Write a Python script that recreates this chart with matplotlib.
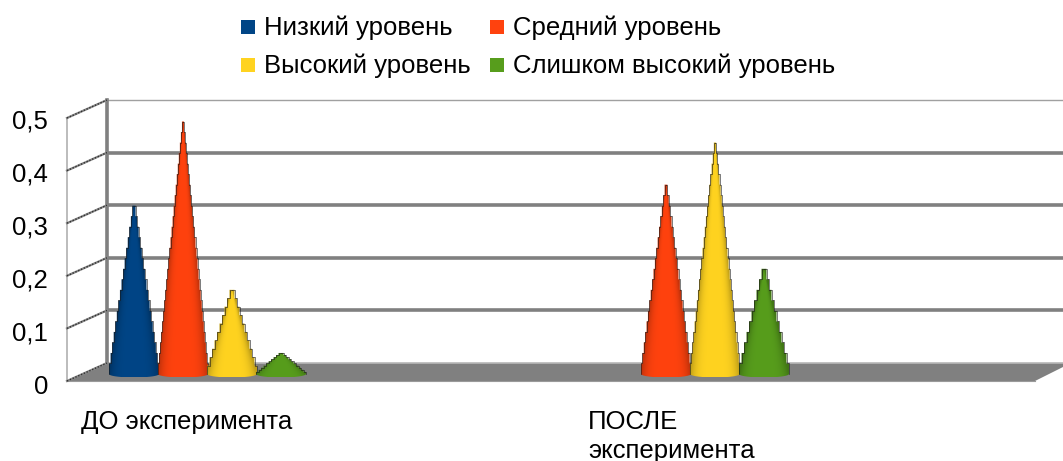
import numpy as np
import matplotlib
matplotlib.use("Agg")
import matplotlib.pyplot as plt
from matplotlib.path import Path
from matplotlib.patches import PathPatch, Polygon, Rectangle
from matplotlib.colors import to_rgb

categories = ["ДО эксперимента", "ПОСЛЕ\nэксперимента"]
series_names = ["Низкий уровень", "Средний уровень", "Высокий уровень", "Слишком высокий уровень"]
low = [0.32, 0]
medium = [0.48, 0.36]
high = [0.16, 0.44]
too_high = [0.04, 0.20]
y_ticks = [0, 0.1, 0.2, 0.3, 0.4, 0.5]
y_labels = ["0", "0,1", "0,2", "0,3", "0,4", "0,5"]
colors = ["#004586", "#ff420e", "#ffd320", "#579d1c"]

W, H = 1063, 461
UNIT = 526.0          # pixels per 1.0 on the value axis
Y0 = 381.0            # pixel row of value 0 on the front edge
DEPTH = 18 / UNIT     # vertical shift of the back wall
X_FRONT, X_BACK = 67, 107
BASE = 7 / UNIT       # cone base sits a little behind the front edge
RADIUS = 25
ELL = 3.5 / UNIT
STEP = 10.5 / UNIT
GREY = "#808080"
FONT = 18.5

plt.rcParams["font.family"] = ["Liberation Sans", "DejaVu Sans"]

fig = plt.figure(figsize=(W / 100, H / 100), dpi=100)
ax = fig.add_axes([0, 0, 1, 1])
ax.set_xlim(0, W)
ax.set_ylim((Y0 - H) / UNIT, Y0 / UNIT)
ax.axis("off")


def py(row):
    # pixel row from the top of the figure to value units
    return (Y0 - row) / UNIT


def cone(ax, cx, value, color):
    # stair-stepped outline, the 3D renderer leaves these jaggies on the edges
    n = max(int(round(value / STEP)), 10)
    levels = np.linspace(0, value, n + 1)
    left, right = [], []
    for i in range(n):
        r = RADIUS * (1 - levels[i] / value)
        r2 = RADIUS * (1 - levels[i + 1] / value)
        left += [(cx - r, BASE + levels[i]), (cx - r, BASE + levels[i + 1]), (cx - r2, BASE + levels[i + 1])]
        right += [(cx + r, BASE + levels[i]), (cx + r, BASE + levels[i + 1]), (cx + r2, BASE + levels[i + 1])]
    t = np.linspace(np.pi, 2 * np.pi, 30)
    arc = list(zip(cx + RADIUS * np.cos(t), BASE + ELL * np.sin(t)))
    verts = left + right[::-1] + arc[::-1]
    patch = PathPatch(Path(verts + [verts[0]]), fc="none", ec="none")
    ax.add_patch(patch)

    # shading follows the cone surface: darker towards the silhouette
    xs = np.linspace(cx - RADIUS, cx + RADIUS, 120)
    ys = np.linspace(BASE - ELL, BASE + value, 300)
    xx, yy = np.meshgrid(xs, ys)
    half = np.clip(RADIUS * (1 - (yy - BASE) / value), 0.5, None)
    u = np.clip((xx - cx) / half, -1, 1)
    shade = 1 - 0.25 * np.abs(u) ** 4
    rgb = np.array(to_rgb(color))
    img = shade[..., None] * rgb
    im = ax.imshow(img, extent=(xs[0], xs[-1], ys[0], ys[-1]), origin="lower",
                   aspect="auto", interpolation="bilinear", zorder=3)
    im.set_clip_path(patch)

    ax.plot(*zip(*left), color="#1a1a1a", lw=0.5, alpha=0.8, zorder=3)
    ax.plot(*zip(*right), color="#1a1a1a", lw=0.5, alpha=0.8, zorder=3)


# floor
floor = Polygon([(X_FRONT, 0), (X_BACK, DEPTH), (W, DEPTH), (W, 14 / UNIT), (1035, 0)],
                closed=True, fc=GREY, ec="none", zorder=1)
ax.add_patch(floor)
ax.plot([X_BACK, W], [DEPTH, DEPTH], color="#b8b8b8", lw=1.2, zorder=1)
ax.plot([X_FRONT, 1035], [0, 0], color="#9a9a9a", lw=0.8, zorder=1)

# back wall gridlines
for t in y_ticks[1:-1]:
    ax.plot([X_BACK, W], [t + DEPTH, t + DEPTH], color=GREY, lw=2.6, solid_capstyle="butt", zorder=1)
ax.plot([X_BACK, W], [y_ticks[-1] + DEPTH] * 2, color="#a0a0a0", lw=1.0, zorder=1)

# side wall
ax.plot([X_BACK, X_BACK], [DEPTH, y_ticks[-1] + DEPTH], color=GREY, lw=2.6, zorder=1)
ax.plot([X_FRONT, X_FRONT], [0, y_ticks[-1]], color="#b0b0b0", lw=1.2, zorder=1)
for t in y_ticks:
    ax.plot([X_FRONT, X_BACK], [t, t + DEPTH], color="#8a8a8a", lw=1.6, zorder=1)
    ax.plot([X_FRONT, X_BACK], [t, t + DEPTH], color="#303030", lw=1.0, ls=(0, (1, 1.2)), zorder=1)

for t, label in zip(y_ticks, y_labels):
    ax.text(48, py(394 - 532 * t), label, ha="right", va="baseline", fontsize=FONT, color="black")

# cones, later series sit on top of earlier ones
group_x = [134, 617]
for g, gx in enumerate(group_x):
    for s, values in enumerate([low, medium, high, too_high]):
        if values[g] > 0:
            cone(ax, gx + 49 * s, values[g], colors[s])

ax.text(81, py(429), categories[0], ha="left", va="baseline", fontsize=FONT)
ax.text(588, py(410), categories[1], ha="left", va="top", fontsize=FONT, linespacing=1.25)

# legend
legend_pos = [(241, 27), (490, 27), (241, 65), (490, 65)]
for (lx, ly), name, c in zip(legend_pos, series_names, colors):
    ax.add_patch(Rectangle((lx, py(ly + 7)), 14, 14 / UNIT, fc=c, ec="none"))
    ax.text(lx + 23, py(ly + 8), name, ha="left", va="baseline", fontsize=FONT)

ax.set_xlim(0, W)
ax.set_ylim((Y0 - H) / UNIT, Y0 / UNIT)
fig.savefig("out.png", dpi=100)
